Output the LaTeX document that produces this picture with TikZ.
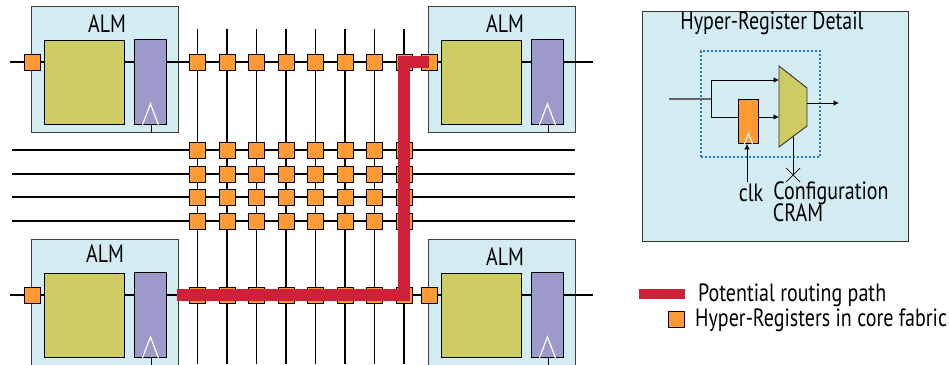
\documentclass[tikz,border=0pt]{standalone}
\usepackage{fontspec}
\setmainfont[FakeStretch=0.8]{PT Sans}
\usetikzlibrary{arrows.meta,backgrounds}
\definecolor{almblue}{HTML}{D3ECF2}
\definecolor{lutolive}{HTML}{CDCC62}
\definecolor{latchpurple}{HTML}{9B9ACB}
\definecolor{regorange}{HTML}{FD9A33}
\definecolor{routered}{HTML}{CE2039}
\definecolor{dotblue}{HTML}{1F7FB0}
\tikzset{
    almbox/.style={draw=black!75, fill=almblue, line width=0.9pt, anchor=north west, inner sep=0pt, minimum width=147pt, minimum height=126pt},
    lutbox/.style={draw=black, fill=lutolive, line width=0.9pt, anchor=north west, inner sep=0pt, minimum width=80pt, minimum height=84pt},
    latchbox/.style={draw=black, fill=latchpurple, line width=0.9pt, anchor=north west, inner sep=0pt, minimum width=32pt, minimum height=85pt},
    hyperreg/.style={draw=black, fill=regorange, line width=0.8pt, inner sep=0pt, minimum size=16pt},
    wire/.style={black, line width=1.5pt},
    flowline/.style={black, line width=0.8pt, -{Latex[length=5.5pt,width=5.5pt]}},
    routepath/.style={routered, line width=12pt},
    lbl/.style={inner sep=0pt, font=\fontsize{25}{25}\selectfont},
}
\begin{document}
\begin{tikzpicture}[x=1pt, y=-1pt]
    \clip (0,0) rectangle (949,364);

    % ALM blocks
    \foreach \name/\bx/\by in {tl/31/6, tr/428/6, bl/31/239, br/428/239} {
        \begin{scope}[on background layer]
            \node[almbox] (alm-\name) at (\bx,\by) {};
        \end{scope}
        \node[lutbox] (lut-\name) at (\bx+13,\by+34) {};
        \node[latchbox] (latch-\name) at (\bx+103,\by+33) {};
        \draw[white, line width=1.2pt] ([xshift=-8pt]latch-\name.south) -- ([yshift=21pt]latch-\name.south) -- ([xshift=8pt]latch-\name.south);
    }
    \node[lbl] (label-tl) at (107,24) {ALM};
    \node[lbl] (label-tr) at (505,24) {ALM};
    \node[lbl] (label-bl) at (105,254) {ALM};
    \node[lbl] (label-br) at (505,257) {ALM};

    % Hyper-Registers
    \foreach \row/\ypos in {a/62, b/150, c/174, d/197, e/221, f/295}
        \foreach \col/\xpos in {1/197.5, 2/227, 3/256.5, 4/286, 5/315.5, 6/345, 7/374.5, 8/404}
            \node[hyperreg] (r\row\col) at (\xpos,\ypos) {};
    \node[hyperreg] (in-tl) at (32,62) {};
    \node[hyperreg] (in-tr) at (429,62) {};
    \node[hyperreg] (in-bl) at (32,295) {};
    \node[hyperreg] (in-br) at (429,295) {};

    % Free wire ends
    \coordinate (west-a) at (10,62);
    \coordinate (east-a) at (593,62);
    \coordinate (west-f) at (10,295);
    \coordinate (east-f) at (593,295);
    \foreach \row/\ypos in {b/150, c/174, d/197, e/221} {
        \coordinate (west-\row) at (12,\ypos);
        \coordinate (east-\row) at (575,\ypos);
    }
    \foreach \col/\xpos in {1/197.5, 2/227, 3/256.5, 4/286, 5/315.5, 6/345, 7/374.5, 8/404} {
        \coordinate (top-\col) at (\xpos,29);
        \coordinate (bot-\col) at (\xpos,364);
    }

    % Wires
    \begin{scope}[on background layer]
        \foreach \row in {b,c,d,e}
            \draw[wire] (west-\row) -- (east-\row);
        \foreach \col in {1,...,8}
            \draw[wire] (top-\col) -- (bot-\col);
        \draw[wire] (west-a) -- (in-tl) -- (lut-tl.west |- in-tl);
        \draw[wire] (lut-tl.east |- in-tl) -- (latch-tl.west |- in-tl);
        \draw[wire] (latch-tl.east |- in-tl) -- (ra1);
        \draw[wire] (ra1) -- (ra8) -- (in-tr) -- (lut-tr.west |- in-tr);
        \draw[wire] (lut-tr.east |- in-tr) -- (latch-tr.west |- in-tr);
        \draw[wire] (latch-tr.east |- in-tr) -- (east-a);
        \draw[wire] (west-f) -- (in-bl) -- (lut-bl.west |- in-bl);
        \draw[wire] (lut-bl.east |- in-bl) -- (latch-bl.west |- in-bl);
        \draw[wire] (latch-bl.east |- in-bl) -- (rf1);
        \draw[wire] (rf8) -- (in-br) -- (lut-br.west |- in-br);
        \draw[wire] (lut-br.east |- in-br) -- (latch-br.west |- in-br);
        \draw[wire] (latch-br.east |- in-br) -- (east-f);
        \foreach \name in {tl,tr,bl,br}
            \draw[wire, line width=1.2pt] ([xshift=1pt]latch-\name.south) -- ([xshift=1pt]latch-\name.south |- alm-\name.south);
    \end{scope}

    % Routing path
    \coordinate (route-start) at (177,295);
    \draw[routepath] (route-start) -- (rf8.center) -- (ra8.center) -- (in-tr.center);

    % Hyper-Register detail
    \node[draw=black!80, fill=almblue, line width=0.9pt, anchor=north west, inner sep=0pt, minimum width=266pt, minimum height=230pt] (detail) at (642,11) {};
    \node[lbl] (detail-title) at (772,23) {Hyper-Register Detail};
    \node[draw=dotblue, line width=2pt, dash pattern=on 2pt off 2pt, anchor=north west, inner sep=0pt, minimum width=119pt, minimum height=106pt] (dotbox) at (700,50) {};
    \node[draw=black, fill=regorange, line width=0.8pt, anchor=north west, inner sep=0pt, minimum width=20pt, minimum height=44pt] (hreg) at (738,99) {};
    \draw[white, line width=1.2pt] ([xshift=-4pt]hreg.south) -- ([yshift=10pt]hreg.south) -- ([xshift=4pt]hreg.south);
    \draw[draw=black!80, fill=lutolive, line width=0.9pt] (779,66) coordinate (mux-a) -- (807,88) coordinate (mux-b) -- (807,126) coordinate (mux-c) -- (779,147) coordinate (mux-d) -- cycle;
    \coordinate (mux-in1) at (779,80);
    \coordinate (mux-in2) at (779,117);
    \coordinate (hreg-in) at (738,117);
    \coordinate (hreg-out) at (758,117);
    \coordinate (mux-out) at (807,103);
    \coordinate (mux-sel) at (793,137);
    \coordinate (out-end) at (839,103);
    \coordinate (in-start) at (669,99);
    \coordinate (fork) at (711,99);
    \coordinate (cross) at (793,175);
    \coordinate (clk-start) at (747,182);
    \draw[black!60, line width=1.2pt] (in-start) -- (fork);
    \draw[flowline] (fork) |- (mux-in1);
    \draw[black, line width=0.8pt] (fork) |- (hreg-in);
    \draw[flowline] (hreg-out) -- (mux-in2);
    \draw[flowline] (mux-out) -- (out-end);
    \draw[black, line width=0.8pt] (mux-sel) -- (cross);
    \draw[black, line width=0.7pt] ([shift={(-7pt,7pt)}]cross) -- ([shift={(7pt,-7pt)}]cross);
    \draw[black, line width=0.7pt] ([shift={(-7pt,-7pt)}]cross) -- ([shift={(7pt,7pt)}]cross);
    \node[lbl] (clk-label) at (751,193) {clk};
    \node[lbl] (config-label) at (831,193) {Configuration};
    \node[lbl] (cram-label) at (798,213) {CRAM};
    \draw[flowline] (clk-start) -- (clk-start |- hreg.south);

    % Legend
    \coordinate (legend-a) at (639,294);
    \coordinate (legend-b) at (685,294);
    \draw[routered, line width=10pt] (legend-a) -- (legend-b);
    \node[lbl, anchor=west] (legend-route) at (698,295) {Potential routing path};
    \node[hyperreg] (legend-reg) at (676.5,319) {};
    \node[lbl, anchor=west] (legend-hyper) at (695,320) {Hyper-Registers in core fabric};
\end{tikzpicture}
\end{document}
